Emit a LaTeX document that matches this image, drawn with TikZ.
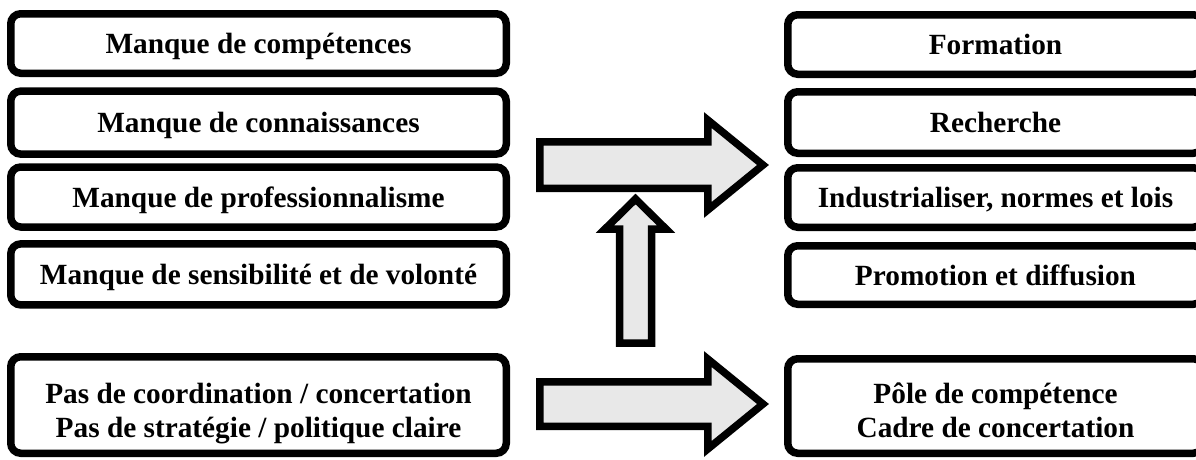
\documentclass[tikz,border=0pt]{standalone}
\usepackage{fontspec}
\setmainfont{Liberation Serif}
\definecolor{arrowgray}{RGB}{232,232,232}
\newcommand\twolines[2]{\begin{tabular}[t]{@{}c@{}}#1\\#2\end{tabular}}
\begin{document}
\begin{tikzpicture}[x=1pt,y=-1pt,
  box/.style={draw=black, line width=7.5pt, rounded corners=10pt, inner sep=0pt,
    fill=white, font=\bfseries\fontsize{29.3}{34}\selectfont, align=center},
  oneline/.style={text height=20pt, text depth=0pt},
  leftbox/.style={box, minimum width=495.5pt},
  rightbox/.style={box, minimum width=415.5pt},
  blockarrow/.style={draw=black, line width=7.5pt, fill=arrowgray, line join=miter}]
\useasboundingbox (0,0) rectangle (1196,459);
\fill[white] (0,0) rectangle (1196,459);
\clip (0,0) rectangle (1196,459);

% left column
\node[leftbox,oneline,minimum height=59.5pt] (L1) at (258.5,43.5) {Manque de compétences};
\node[leftbox,oneline,minimum height=63pt] (L2) at (258.5,122.6) {Manque de connaissances};
\node[leftbox,oneline,minimum height=60pt] (L3) at (258.5,197) {Manque de professionnalisme};
\node[leftbox,oneline,minimum height=61pt] (L4) at (258.5,274.4) {Manque de sensibilité et de volonté};
\node[leftbox,minimum height=96.5pt,text height=20pt,text depth=24pt] (L5) at (258.5,405)
  {\twolines{Pas de coordination / concertation}{Pas de stratégie / politique claire}};

% right column
\node[rightbox,oneline,minimum height=59.5pt] (R1) at (995.5,44.5) {Formation};
\node[rightbox,oneline,minimum height=61.5pt] (R2) at (995.5,122.5) {Recherche};
\node[rightbox,oneline,minimum height=59.5pt] (R3) at (995.5,197.5) {Industrialiser, normes et lois};
\node[rightbox,oneline,minimum height=58.5pt] (R4) at (995.5,275) {Promotion et diffusion};
\node[rightbox,minimum height=94.5pt,text height=20pt,text depth=26pt] (R5) at (995.5,406)
  {\twolines{Pôle de compétence}{Cadre de concertation}};

% block arrows
\draw[blockarrow] (539.75,141.75) -- (707.75,141.75) -- (707.75,120) -- (763,165)
  -- (707.75,210) -- (707.75,188.25) -- (539.75,188.25) -- cycle;
\draw[blockarrow] (539.75,381.75) -- (707.75,381.75) -- (707.75,359) -- (763,404)
  -- (707.75,449) -- (707.75,426.25) -- (539.75,426.25) -- cycle;
\draw[blockarrow] (619.5,343) -- (619.5,229) -- (605,229) -- (635.5,199)
  -- (666,229) -- (651.5,229) -- (651.5,343) -- cycle;
\end{tikzpicture}
\end{document}
